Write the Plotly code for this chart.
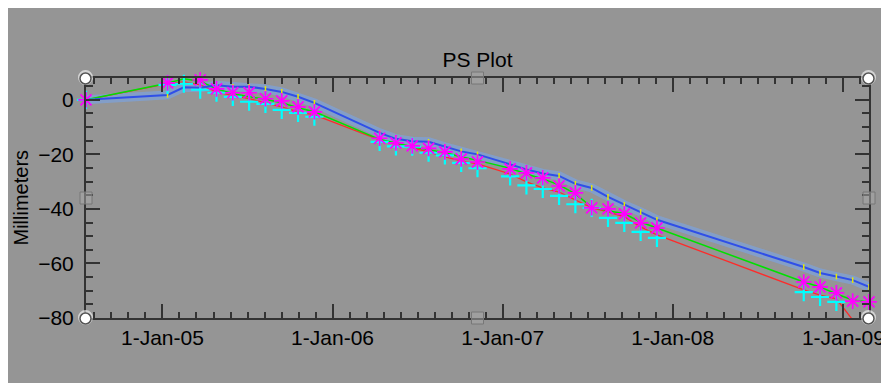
import plotly.graph_objects as go

# ---------------- data ----------------
dates = [
    "2004-07-21", "2005-01-12", "2005-02-16", "2005-03-23", "2005-04-27",
    "2005-06-01", "2005-07-06", "2005-08-10", "2005-09-14", "2005-10-19",
    "2005-11-23", "2006-04-12", "2006-05-17", "2006-06-21", "2006-07-26",
    "2006-08-30", "2006-10-04", "2006-11-08", "2007-01-17", "2007-02-21",
    "2007-03-28", "2007-05-02", "2007-06-06", "2007-07-11", "2007-08-15",
    "2007-09-19", "2007-10-24", "2007-11-28", "2008-10-08", "2008-11-12",
    "2008-12-17", "2009-01-21", "2009-02-25",
]

star_vals = [0.0, 6.2, 8.1, 7.3, 4.0, 2.6, 2.6, 0.4, -0.4, -2.6,
             -4.4, -14.1, -15.8, -16.9, -17.8, -19.1, -21.7, -22.8, -25.3, -26.8,
             -28.6, -31.6, -34.1, -39.6, -40.0, -41.8, -45.1, -47.0, -66.8, -68.6,
             -70.8, -73.8, -74.1]

plus_vals = [0.0, 5.5, 5.9, 3.7, 2.6, 1.1, -0.7, -1.5, -3.7, -4.8,
             -6.2, -15.4, -17.1, -17.2, -19.4, -20.4, -23.1, -25.1, -28.1, -31.4,
             -32.7, -35.2, -38.3, -39.6, -43.3, -45.1, -48.4, -50.6, -70.5, -72.3,
             -74.1, -81.1, -80.6]

blue_vals = [0.0, 1.8, 4.6, 4.4, 5.3, 4.8, 4.8, 4.0, 2.9, 1.1,
             -1.1, -12.1, -14.3, -15.2, -15.4, -17.2, -18.9, -20.0, -23.7, -25.5,
             -27.0, -27.9, -30.8, -32.3, -35.6, -38.5, -41.1, -44.0, -61.3, -63.5,
             -64.8, -66.1, -68.6]

green_vals = [0.0, 6.1, 7.7, 6.8, 4.0, 2.2, 1.1, 0.2, -1.1, -2.9,
              -4.4, -14.5, -15.8, -17.2, -18.3, -19.4, -20.9, -22.2, -25.1, -27.2,
              -29.0, -31.2, -34.5, -39.3, -40.7, -41.8, -44.8, -47.0, -66.8, -68.6,
              -71.2, -73.4, -74.1]

red_vals = [0.0, 5.9, 6.6, 5.5, 2.9, 1.5, 0.4, -1.1, -2.6, -4.4,
            -5.5, -14.7, -16.1, -17.6, -19.1, -20.9, -22.4, -23.5, -27.2, -30.1,
            -32.3, -33.8, -36.7, -39.6, -41.1, -42.9, -46.6, -49.5, -69.7, -71.6,
            -73.0, -80.7, -80.7]

x_range = ["2004-07-21", "2009-02-25"]
y_range = [-80, 8]
y_ticks = [0, -20, -40, -60, -80]

# ---------------- figure ----------------
BG = "#959595"
AX = "#333333"
FONT = "Liberation Sans, Arial, sans-serif"
ML, MR, MT, MB = 78, 22, 70, 73
W, H = 889, 383
W_PLOT = W - ML - MR

fig = go.Figure()

# glow under the blue line
fig.add_trace(go.Scatter(x=dates, y=blue_vals, mode="lines",
                         line=dict(color="rgba(120,165,235,0.6)", width=9),
                         hoverinfo="skip", cliponaxis=False))
fig.add_trace(go.Scatter(x=dates, y=red_vals, mode="lines",
                         line=dict(color="#ff2a2a", width=1.3), cliponaxis=False))
fig.add_trace(go.Scatter(x=dates, y=green_vals, mode="lines",
                         line=dict(color="#00e000", width=1.5), cliponaxis=False))
fig.add_trace(go.Scatter(x=dates, y=blue_vals, mode="lines+markers",
                         line=dict(color="#2f4fe8", width=2),
                         marker=dict(symbol="line-ns-open", size=4, color="#e8e800",
                                     line=dict(color="#e8e800", width=1.5)),
                         cliponaxis=False))
fig.add_trace(go.Scatter(x=dates, y=plus_vals, mode="markers",
                         marker=dict(symbol="cross-thin-open", size=13, color="#00ffff",
                                     line=dict(color="#00ffff", width=2.2)),
                         cliponaxis=False))
fig.add_trace(go.Scatter(x=dates, y=star_vals, mode="markers",
                         marker=dict(symbol="asterisk-open", size=13, color="#ff00ff",
                                     line=dict(color="#ff00ff", width=1.7)),
                         cliponaxis=False))

axis_common = dict(
    showline=True, linecolor=AX, linewidth=2, mirror="allticks",
    ticks="inside", ticklen=14, tickwidth=1.5, tickcolor=AX,
    showgrid=False, zeroline=False,
    tickfont=dict(family=FONT, size=21, color="black"),
)

fig.update_xaxes(
    type="date", range=x_range, tickformat="%-d-%b-%y",
    tick0="2005-01-01", dtick="M12",
    minor=dict(ticks="inside", ticklen=6, tickwidth=1.5, tickcolor=AX,
               tick0="2005-01-01", dtick=3155760000, showgrid=False),
    ticklabelstandoff=0,
    **axis_common,
)
fig.update_yaxes(
    range=y_range, tickvals=y_ticks,
    minor=dict(ticks="inside", ticklen=7, tickwidth=1.5, tickcolor=AX,
               dtick=5, tick0=0, showgrid=False),
    ticklabelstandoff=6,
    **axis_common,
)

# selection handles (corner circles & mid squares)
shapes = []
for (px, py) in [(0, 0), (0, 1), (1, 0), (1, 1)]:
    shapes.append(dict(type="circle", xref="paper", yref="paper",
                       xsizemode="pixel", ysizemode="pixel",
                       xanchor=px, yanchor=py, x0=-8, x1=7, y0=-7, y1=8,
                       fillcolor="rgba(255,255,255,0.6)", line=dict(width=0),
                       layer="above"))
    shapes.append(dict(type="circle", xref="paper", yref="paper",
                       xsizemode="pixel", ysizemode="pixel",
                       xanchor=px, yanchor=py, x0=-6, x1=5, y0=-6, y1=5,
                       fillcolor="white", line=dict(color="#555555", width=1.5),
                       layer="above"))
for (px, py) in [(0.5, 0), (0.5, 1), (0, 0.5), (1, 0.5)]:
    shapes.append(dict(type="rect", xref="paper", yref="paper",
                       xsizemode="pixel", ysizemode="pixel",
                       xanchor=px, yanchor=py, x0=-6, x1=6, y0=-6, y1=6,
                       fillcolor="rgba(170,170,170,0.5)",
                       line=dict(color="#777777", width=1), layer="above"))

fig.update_layout(
    width=W, height=H,
    margin=dict(l=ML, r=MR, t=MT, b=MB),
    paper_bgcolor=BG, plot_bgcolor=BG,
    showlegend=False,
    font=dict(family=FONT, color="black"),
    title=dict(text="PS Plot", x=0.5, xref="paper", xanchor="center",
               y=1 - 52 / H, yref="container", yanchor="middle",
               font=dict(family=FONT, size=21, color="black")),
    shapes=shapes,
    annotations=[dict(text="Millimeters", xref="paper", yref="paper",
                      x=(12 - ML) / W_PLOT, y=0.5, textangle=-90,
                      showarrow=False, xanchor="center", yanchor="middle",
                      font=dict(family=FONT, size=20, color="black"))],
)

fig.write_html("out.html")
